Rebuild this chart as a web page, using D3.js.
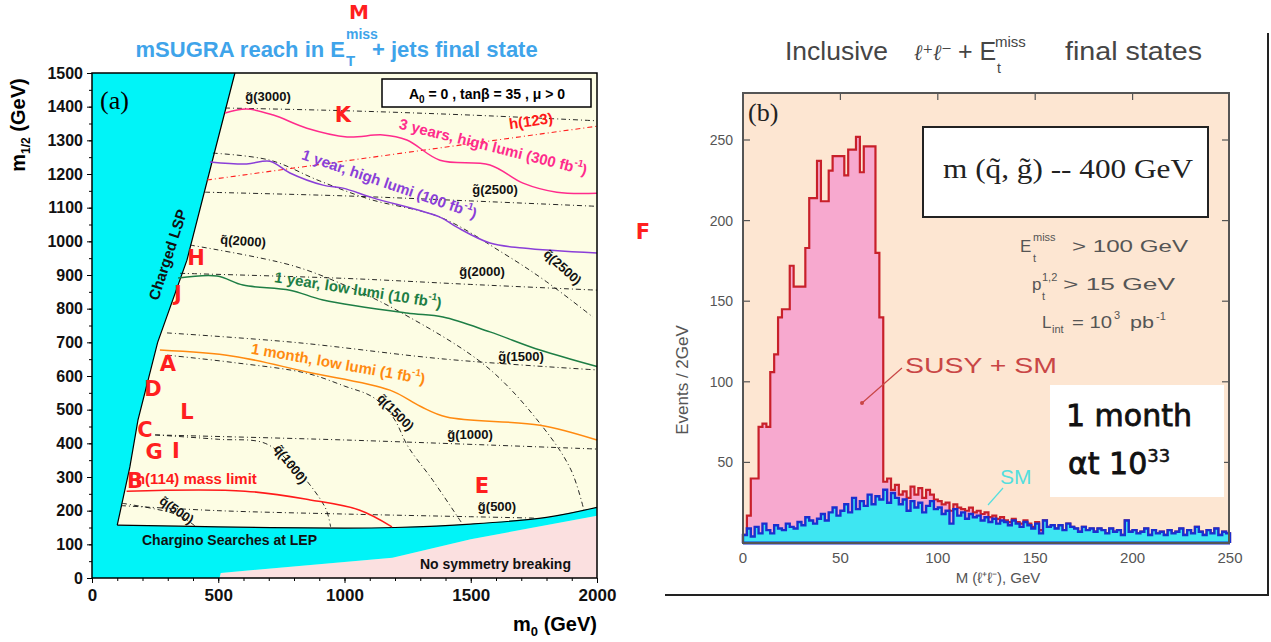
<!DOCTYPE html>
<html><head><meta charset="utf-8">
<script src="https://cdn.jsdelivr.net/npm/d3@7"></script>
<style>body{margin:0;background:#fff}svg{display:block}</style>
</head><body>
<svg id="c" width="1271" height="642"></svg>
<script>
// ---------------- LEFT PANEL DATA (m0, m1/2 in GeV) ----------------
const m0TickValues = [0, 500, 1000, 1500, 2000];
const m12TickValues = [0, 100, 200, 300, 400, 500, 600, 700, 800, 900, 1000, 1100, 1200, 1300, 1400, 1500];

const chargedLSPBoundary = [[566,1500],[470,1220],[376,944],[260,700],[182,469],[150,330],[100,157]];
const lepBoundary = [[100,157],[500,152],[1000,148],[1200,150],[1500,160],[1800,180],[2000,210]];
const noEWSBBoundary = [[2000,185],[1500,115],[1190,60],[510,15],[505,0]];

const gluino3000 = [[527,1396],[1000,1388],[1500,1375],[2000,1358]];
const gluino2500 = [[448,1146],[1000,1135],[1500,1120],[2000,1104]];
const gluino2000 = [[349,905],[1000,890],[1500,872],[2000,855]];
const gluino1500 = [[297,728],[800,700],[1400,650],[2000,618]];
const gluino1000 = [[250,425],[1000,410],[2000,383]];
const gluino500  = [[115,215],[500,200],[1000,190],[1500,182],[1750,178]];

const squark500  = [[119,222],[250,205],[330,190],[380,170],[412,152]];
const squark1000 = [[250,425],[500,412],[686,400],[800,330],[880,260],[928,202],[945,152]];
const squark1500 = [[297,662],[560,640],[851,608],[1000,570],[1113,537],[1192,478],[1252,390],[1350,290],[1462,166]];
const squark2000 = [[388,989],[784,930],[1000,870],[1220,790],[1564,627],[1786,448],[1897,321],[1948,202]];
const squark2500 = [[479,1262],[705,1241],[900,1180],[1100,1125],[1378,1072],[1628,965],[1800,880],[1984,775]];

const higgs123 = [[455,1182],[2000,1342]];
const higgs114 = [[137,258],[606,258],[864,232],[1058,202],[1188,152]];

const reach3yHigh = [[527,1381],[612,1393],[718,1375],[851,1336],[1010,1310],[1152,1316],[1247,1301],[1378,1241],[1576,1227],[1707,1173],[1841,1146],[2000,1143]];
const reach1yHigh = [[467,1236],[612,1230],[705,1238],[784,1203],[915,1167],[994,1158],[1113,1129],[1378,1072],[1445,1042],[1576,995],[1707,980],[2000,965]];
const reach1yLow  = [[341,891],[495,897],[598,870],[784,855],[915,826],[1247,787],[1390,775],[1576,731],[1774,677],[2000,628]];
const reach1mLow  = [[269,677],[559,659],[851,612],[1180,558],[1300,510],[1405,478],[1774,454],[2000,410]];

// ---------------- RIGHT PANEL DATA ----------------
const massTickValues = [0, 50, 100, 150, 200, 250];
const eventTickValues = [50, 100, 150, 200, 250];
const binWidth = 2; // GeV, bins start at 0
const susySmCounts = [5,17,40,40,72,74,72,106,117,140,
 145,145,172,159,159,159,183,214,214,237,
 212,212,231,240,240,240,228,244,244,252,
 230,246,246,246,180,140,38,40,33,36,
 30,32,28,35,30,34,28,33,30,27,
 26,24,25,20,24,22,21,20,22,19,
 20,18,19,16,17,15,16,14,13,15,
 13,12,14,12,10,13,8,14,10,11,
 9,11,8,12,10,9,7,10,8,9,
 7,9,8,6,9,7,8,5,14,7,
 8,6,7,9,5,8,6,7,5,8,
 6,7,9,5,8,6,10,7,5,8,
 6,9,5,7,6];
const smCounts = [5,9,4,10,6,12,8,6,11,9,
 8,12,10,9,13,11,16,14,12,15,
 18,14,19,22,17,20,24,19,28,21,
 26,23,30,24,29,27,33,25,31,28,
 24,27,20,26,22,25,19,23,26,21,
 22,18,20,12,21,17,19,15,18,16,
 17,14,16,13,15,12,14,13,11,14,
 12,10,13,11,9,12,6,14,10,11,
 9,11,8,12,10,9,7,10,8,9,
 7,9,8,6,9,7,8,5,14,7,
 8,6,7,9,5,8,6,7,5,8,
 6,7,9,5,8,6,10,7,5,8,
 6,9,5,7,6];

// ---------------- DRAW ----------------
const svg = d3.select("#c");
const SANS = "'Liberation Sans', Arial, sans-serif";
const SERIF = "'Liberation Serif', 'DejaVu Serif', serif";

// ===== LEFT PANEL =====
const xL = d3.scaleLinear().domain([0,2000]).range([92,597]);
const yL = d3.scaleLinear().domain([0,1500]).range([578,73]);
const L = svg.append("g");
const P = d => [xL(d[0]), yL(d[1])];
const poly = pts => "M" + pts.map(p => P(p).join(",")).join("L") + "Z";

L.append("rect").attr("x",xL(0)).attr("y",yL(1500)).attr("width",xL(2000)-xL(0)).attr("height",yL(0)-yL(1500)).attr("fill","#fdfde4");

L.append("path").attr("d", poly([...noEWSBBoundary, [2000,0]])).attr("fill","#fbe0e0");
const cyanPts = [[0,0],[0,1500], ...chargedLSPBoundary, ...lepBoundary.slice(1), ...noEWSBBoundary];
L.append("path").attr("d", poly(cyanPts)).attr("fill","#00f4f8");

const lineGen = d3.line().x(d=>xL(d[0])).y(d=>yL(d[1])).curve(d3.curveCatmullRom.alpha(0.5));
const straight = d3.line().x(d=>xL(d[0])).y(d=>yL(d[1]));
L.append("path").attr("d", straight(chargedLSPBoundary)).attr("fill","none").attr("stroke","#000").attr("stroke-width",1.2);
L.append("path").attr("d", lineGen(lepBoundary)).attr("fill","none").attr("stroke","#000").attr("stroke-width",1.2);

[gluino3000,gluino2500,gluino2000,gluino1500,gluino1000,gluino500,squark500,squark1000,squark1500,squark2000,squark2500].forEach(c=>{
  L.append("path").attr("d", lineGen(c)).attr("fill","none").attr("stroke","#111").attr("stroke-width",0.9).attr("stroke-dasharray","5,3,1,3");
});
L.append("path").attr("d", straight(higgs123)).attr("fill","none").attr("stroke","#ff2020").attr("stroke-width",1.1).attr("stroke-dasharray","5,3,1,3");

const reach = [[reach3yHigh,"#ff2b8c"],[reach1yHigh,"#8a3fd8"],[reach1yLow,"#1e7e45"],[reach1mLow,"#ff8a10"],[higgs114,"#ff1a1a"]];
reach.forEach(([c,col])=>{
  L.append("path").attr("d", lineGen(c)).attr("fill","none").attr("stroke",col).attr("stroke-width",1.5);
});

function lab(txt, m0, m12, rot, opts={}) {
  const t = L.append("text").attr("transform", `translate(${xL(m0)},${yL(m12)}) rotate(${rot})`)
    .attr("text-anchor", opts.anchor||"middle").attr("dominant-baseline", opts.base||"middle")
    .attr("font-family", SANS).attr("font-weight","bold").attr("font-size", opts.size||13)
    .attr("fill", opts.color||"#111");
  return t.text(txt);
}
lab("g\u0303(3000)", 697, 1426, 0);
lab("g\u0303(2500)", 1596, 1152, 0);
lab("q\u0303(2000)", 598, 998, 4);
lab("g\u0303(2000)", 1545, 906, 0);
lab("q\u0303(2500)", 1861, 921, 42);
lab("g\u0303(1500)", 1699, 656, 0);
lab("q\u0303(1500)", 1200, 490, 45);
lab("g\u0303(1000)", 1497, 422, 0);
lab("q\u0303(1000)", 784, 336, 52);
lab("g\u0303(500)", 1604, 208, 0);
lab("q\u0303(500)", 333, 199, 35);
lab("h(123)", 1739, 1354, -8, {color:"#ff1a1a", size:15});

function supLab(main, sup, tail, m0, m12, rot, color) {
  const t = lab("", m0, m12, rot, {color, size:15});
  t.append("tspan").text(main);
  t.append("tspan").attr("dy",-6).attr("font-size",10).text(sup);
  t.append("tspan").attr("dy",6).text(tail);
}
supLab("3 years, high lumi (300 fb","-1",")", 1588, 1277, 14, "#ff2b8c");
supLab("1 year, high lumi (100 fb","-1",")", 1176, 1167, 19, "#8a3fd8");
supLab("1 year, low lumi (10 fb","-1",")", 1053, 852, 9, "#1e7e45");
supLab("1 month, low lumi (1 fb","-1",")", 974, 633, 10, "#ff8a10");
lab("h(114) mass limit", 174, 279, 0, {color:"#ff1a1a", size:15, anchor:"start", base:"auto"});

lab("Charged LSP", 305, 959, -72, {size:15});
lab("Chargino Searches at LEP", 198, 98, 0, {size:14, anchor:"start", base:"auto"});
lab("No symmetry breaking", 1299, 27, 0, {size:14, anchor:"start", base:"auto"});

L.append("rect").attr("x",382).attr("y",79).attr("width",209).attr("height",28).attr("fill","#fff").attr("stroke","#000").attr("stroke-width",1.5);
const pb = L.append("text").attr("x",487).attr("y",99).attr("text-anchor","middle").attr("font-family",SANS).attr("font-weight","bold").attr("font-size",14);
pb.append("tspan").text("A");
pb.append("tspan").attr("dy",4).attr("font-size",10).text("0");
pb.append("tspan").attr("dy",-4).text(" = 0 ,  tan\u03b2 = 35 ,  \u03bc > 0");

L.append("text").attr("x",100).attr("y",109).attr("font-family",SERIF).attr("font-size",26).text("(a)");

L.append("rect").attr("x",xL(0)).attr("y",yL(1500)).attr("width",xL(2000)-xL(0)).attr("height",yL(0)-yL(1500)).attr("fill","none").attr("stroke","#000").attr("stroke-width",1.5);
const ax = L.append("g").attr("transform",`translate(0,${yL(0)})`).call(d3.axisBottom(xL).tickValues(m0TickValues).tickFormat(d3.format("d")).tickSize(5).tickPadding(6));
const ay = L.append("g").attr("transform",`translate(${xL(0)},0)`).call(d3.axisLeft(yL).tickValues(m12TickValues).tickFormat(d3.format("d")).tickSize(5).tickPadding(4));
[ax,ay].forEach(a=>{a.select(".domain").remove(); a.selectAll("text").attr("font-family",SANS).attr("font-weight","bold").attr("font-size",16).attr("fill","#111");});
ax.selectAll("text").attr("font-size",17);
L.append("g").attr("transform",`translate(0,${yL(0)})`).call(d3.axisBottom(xL).ticks(20).tickSize(3).tickFormat("")).select(".domain").remove();
L.append("g").attr("transform",`translate(${xL(0)},0)`).call(d3.axisLeft(yL).ticks(30).tickSize(3).tickFormat("")).select(".domain").remove();

const xt = L.append("text").attr("x",597).attr("y",631).attr("text-anchor","end").attr("font-family",SANS).attr("font-weight","bold").attr("font-size",20);
xt.append("tspan").text("m");
xt.append("tspan").attr("dy",5).attr("font-size",13).text("0");
xt.append("tspan").attr("dy",-5).text("  (GeV)");
const yt = L.append("text").attr("transform","translate(25,125) rotate(-90)").attr("text-anchor","middle").attr("font-family",SANS).attr("font-weight","bold").attr("font-size",20);
yt.append("tspan").text("m");
yt.append("tspan").attr("dy",5).attr("font-size",12).text("1/2");
yt.append("tspan").attr("dy",-5).text("  (GeV)");

// title
const tcol = "#3fa4ea";
svg.append("text").attr("x",345).attr("y",57).attr("text-anchor","end").attr("font-family",SANS).attr("font-weight","bold").attr("font-size",22).attr("fill",tcol).text("mSUGRA reach in E");
svg.append("text").attr("x",346).attr("y",39).attr("font-family",SANS).attr("font-weight","bold").attr("font-size",14).attr("fill",tcol).text("miss");
svg.append("text").attr("x",346).attr("y",66).attr("font-family",SANS).attr("font-weight","bold").attr("font-size",15).attr("fill",tcol).text("T");
svg.append("text").attr("x",372).attr("y",57).attr("font-family",SANS).attr("font-weight","bold").attr("font-size",22).attr("fill",tcol).text("+ jets final state");

// ===== RIGHT PANEL =====
const xR = d3.scaleLinear().domain([0,250]).range([743,1230]);
const yR = d3.scaleLinear().domain([0,250]).range([543,140]);
const R = svg.append("g");
const GRAY = "#555";
R.append("rect").attr("x",743).attr("y",93).attr("width",486).attr("height",450).attr("fill","#fde6d2");

function stepPts(counts){
  const pts = [[0,0]];
  counts.forEach((c,i)=>pts.push([i*binWidth, c]));
  pts.push([counts.length*binWidth, counts[counts.length-1]]);
  pts.push([counts.length*binWidth, 0]);
  return pts;
}
const stepArea = d3.area().x(d=>xR(d[0])).y0(yR(0)).y1(d=>yR(d[1])).curve(d3.curveStepAfter);
const stepLine = d3.line().x(d=>xR(d[0])).y(d=>yR(d[1])).curve(d3.curveStepAfter);
const redPts = stepPts(susySmCounts), bluePts = stepPts(smCounts);
R.append("path").attr("d", stepArea(redPts)).attr("fill","#f7a9cf");
R.append("path").attr("d", stepLine(redPts)).attr("fill","none").attr("stroke","#c8202a").attr("stroke-width",2.2);
R.append("path").attr("d", stepArea(bluePts)).attr("fill","#3ee6f2");
R.append("path").attr("d", stepLine(bluePts)).attr("fill","none").attr("stroke","#1a2fd0").attr("stroke-width",2.4);
R.append("line").attr("x1",xR(0)).attr("x2",xR(250)).attr("y1",yR(0)).attr("y2",yR(0)).attr("stroke","#1a2fd0").attr("stroke-width",3);

R.append("rect").attr("x",743).attr("y",93).attr("width",486).attr("height",450).attr("fill","none").attr("stroke",GRAY).attr("stroke-width",2);
eventTickValues.forEach(v=>{
  R.append("line").attr("x1",743).attr("x2",750).attr("y1",yR(v)).attr("y2",yR(v)).attr("stroke",GRAY).attr("stroke-width",1.2);
  R.append("line").attr("x1",1222).attr("x2",1229).attr("y1",yR(v)).attr("y2",yR(v)).attr("stroke",GRAY).attr("stroke-width",1.2);
  R.append("text").attr("x",733).attr("y",yR(v)+5).attr("text-anchor","end").attr("font-family",SANS).attr("font-size",14).attr("fill",GRAY).text(v);
});
massTickValues.forEach(v=>{
  if (v>0 && v<250) R.append("line").attr("x1",xR(v)).attr("x2",xR(v)).attr("y1",93).attr("y2",100).attr("stroke",GRAY).attr("stroke-width",1.2);
  R.append("text").attr("x",xR(v)).attr("y",563).attr("text-anchor","middle").attr("font-family",SANS).attr("font-size",15).attr("fill",GRAY).text(v);
});
R.append("text").attr("transform","translate(688,380) rotate(-90)").attr("text-anchor","middle").attr("font-family",SANS).attr("font-size",17).attr("fill",GRAY).text("Events / 2GeV");
R.append("text").attr("x",998).attr("y",583).attr("text-anchor","middle").attr("font-family",SANS).attr("font-size",15).attr("fill",GRAY).text("M  (\u2113\u207a\u2113\u207b), GeV");

// title
const TG = "#454545";
R.append("text").attr("x",785).attr("y",60).attr("font-family",SANS).attr("font-size",25).attr("fill",TG).attr("textLength",103).attr("lengthAdjust","spacingAndGlyphs").text("Inclusive");
R.append("text").attr("x",914).attr("y",60).attr("font-family",SERIF).attr("font-style","italic").attr("font-size",22).attr("fill",TG).attr("textLength",38).attr("lengthAdjust","spacingAndGlyphs").text("\u2113\u207a\u2113\u207b");
R.append("text").attr("x",958).attr("y",60).attr("font-family",SANS).attr("font-size",25).attr("fill",TG).text("+ E");
R.append("text").attr("x",995).attr("y",47).attr("font-family",SANS).attr("font-size",15).attr("fill",TG).text("miss");
R.append("text").attr("x",997).attr("y",73).attr("font-family",SANS).attr("font-size",14).attr("fill",TG).text("t");
R.append("text").attr("x",1065).attr("y",60).attr("font-family",SANS).attr("font-size",25).attr("fill",TG).attr("textLength",137).attr("lengthAdjust","spacingAndGlyphs").text("final states");

R.append("text").attr("x",748).attr("y",121).attr("font-family",SERIF).attr("font-size",26).attr("fill","#222").text("(b)");

R.append("rect").attr("x",923).attr("y",127).attr("width",285).attr("height",90).attr("fill","#fff").attr("stroke","#222").attr("stroke-width",2);
R.append("text").attr("x",943).attr("y",178).attr("font-family",SERIF).attr("font-size",28).attr("fill","#222").attr("textLength",250).attr("lengthAdjust","spacingAndGlyphs").text("m (q\u0303, g\u0303) -- 400 GeV");

// cut text
const CG = "#555";
function t(x,y,s,size,len){ const e=R.append("text").attr("x",x).attr("y",y).attr("font-family",SANS).attr("font-size",size).attr("fill",CG).text(s); if(len) e.attr("textLength",len).attr("lengthAdjust","spacingAndGlyphs"); return e; }
t(1020,252,"E",17);
t(1033,241,"miss",11);
t(1033,262,"t",11);
t(1072,252,"> 100  GeV",17,116);
t(1032,290,"p",17);
t(1042,281,"1,2",11);
t(1042,300,"t",11);
t(1063,290,"> 15 GeV",17,112);
t(1042,328,"L",17);
t(1052,333,"int",11);
t(1072,328,"= 10",17,40);
t(1114,319,"3",11);
t(1130,328,"pb",17,24);
t(1156,320,"-1",11);

R.append("text").attr("x",905).attr("y",373).attr("font-family",SANS).attr("font-size",22).attr("fill","#c94646").attr("textLength",152).attr("lengthAdjust","spacingAndGlyphs").text("SUSY + SM");
R.append("line").attr("x1",902).attr("y1",368).attr("x2",862).attr("y2",403).attr("stroke","#c94646").attr("stroke-width",1.2);
R.append("circle").attr("cx",862).attr("cy",403).attr("r",2).attr("fill","#c94646");

R.append("rect").attr("x",1050).attr("y",385).attr("width",174).attr("height",112).attr("fill","#fff");
R.append("text").attr("x",1066).attr("y",426).attr("font-family","'DejaVu Sans', sans-serif").attr("font-size",30).attr("fill","#111").attr("stroke","#111").attr("stroke-width",0.8).text("1 month");
const at = R.append("text").attr("x",1068).attr("y",474).attr("font-family","'DejaVu Sans', sans-serif").attr("font-size",30).attr("fill","#111").attr("stroke","#111").attr("stroke-width",0.8);
at.append("tspan").text("\u03b1t 10");
at.append("tspan").attr("dy",-12).attr("font-size",18).attr("stroke-width",0.5).text("33");

R.append("text").attr("x",1000).attr("y",484).attr("font-family",SANS).attr("font-size",21).attr("fill","#55dede").text("SM");
R.append("line").attr("x1",1003).attr("y1",488).attr("x2",988).attr("y2",505).attr("stroke","#55dede").attr("stroke-width",1.2);

svg.append("line").attr("x1",665).attr("x2",1269).attr("y1",595).attr("y2",595).attr("stroke","#222").attr("stroke-width",2);
svg.append("line").attr("x1",1268).attr("x2",1268).attr("y1",33).attr("y2",596).attr("stroke","#222").attr("stroke-width",2);

// ===== red letter annotations (pixel positions) =====
const letterMarks = ["M","K","H","J","A","D","L","C","G","I","B","E","F"];
const letterPos = [[359,12],[343,115],[196,258],[178,294],[168,364],[153,389],[187,412],[145,430],[154,452],[176,451],[135,481],[482,486],[643,232]];
letterMarks.forEach((l,i)=>{
  svg.append("text").attr("x",letterPos[i][0]).attr("y",letterPos[i][1]).attr("text-anchor","middle").attr("dominant-baseline","central")
    .attr("font-family","'DejaVu Sans', sans-serif").attr("font-weight","bold").attr("font-size",i===0?20:21).attr("fill","#ff1f1f").text(l);
});
</script>
</body></html>
